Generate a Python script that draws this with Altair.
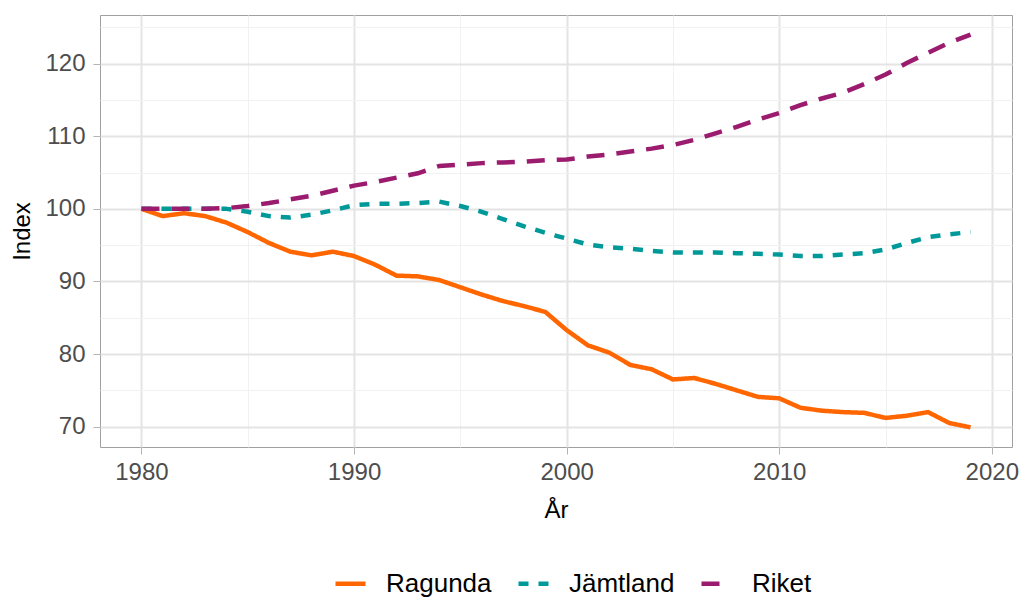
import altair as alt
import pandas as pd

years = list(range(1980, 2020))
series_names = ["Ragunda", "Jämtland", "Riket"]
colors = ["#FF6600", "#009999", "#9B1B6E"]
dashes = [[1, 0], [10, 10], [18, 12]]

ragunda = [100, 99.0, 99.4, 99.0, 98.1, 96.8, 95.3, 94.1, 93.6, 94.1,
           93.5, 92.3, 90.8, 90.7, 90.2, 89.2, 88.2, 87.3, 86.6, 85.8,
           83.3, 81.2, 80.2, 78.5, 77.9, 76.5, 76.7, 75.9, 75.0, 74.1,
           73.9, 72.6, 72.2, 72.0, 71.9, 71.2, 71.5, 72.0, 70.5, 69.9]
jamtland = [100, 100, 100, 100, 100, 99.6, 99.0, 98.8, 99.2, 99.8,
            100.5, 100.7, 100.7, 100.8, 101.0, 100.4, 99.6, 98.6, 97.6, 96.7,
            95.9, 95.1, 94.7, 94.5, 94.2, 94.0, 94.0, 94.0, 93.9, 93.8,
            93.7, 93.5, 93.5, 93.7, 93.9, 94.4, 95.3, 96.1, 96.5, 96.8]
riket = [100, 100, 100, 100, 100.1, 100.4, 100.8, 101.3, 101.8, 102.5,
         103.2, 103.7, 104.3, 104.9, 105.9, 106.1, 106.3, 106.4, 106.5, 106.7,
         106.8, 107.2, 107.5, 107.9, 108.3, 108.8, 109.5, 110.4, 111.3, 112.3,
         113.2, 114.3, 115.2, 116.0, 117.2, 118.5, 120.1, 121.5, 122.9, 124.0]

x_ticks = list(range(1980, 2021, 5))
y_ticks = list(range(70, 126, 5))

rows = []
for name, vals in zip(series_names, [ragunda, jamtland, riket]):
    for yr, v in zip(years, vals):
        rows.append({"year": yr, "value": v, "series": name})
df = pd.DataFrame(rows)

allv = ragunda + jamtland + riket
ymin, ymax = min(allv), max(allv)
yexp = (ymax - ymin) * 0.05
xexp = (max(years) - min(years)) * 0.05

major_test = "datum.value % 10 === 0"
grid_color = {"condition": {"test": major_test, "value": "#E4E4E4"}, "value": "#F1F1F1"}
grid_width = {"condition": {"test": major_test, "value": 2}, "value": 1}
tick_op = {"condition": {"test": major_test, "value": 1}, "value": 0}
lab_expr = "datum.value % 10 === 0 ? datum.label : ''"

legend_opts = dict(orient="none", legendX=233, legendY=551, direction="horizontal")

chart = alt.Chart(df).mark_line(strokeWidth=4.5, strokeCap="butt", strokeJoin="round").encode(
    x=alt.X("year:Q", title="År",
            scale=alt.Scale(domain=[min(years) - xexp, max(years) + xexp], nice=False, zero=False),
            axis=alt.Axis(values=x_ticks, format="d", labelExpr=lab_expr,
                          gridColor=grid_color, gridWidth=grid_width, tickOpacity=tick_op,
                          labelPadding=6, titlePadding=14)),
    y=alt.Y("value:Q", title="Index",
            scale=alt.Scale(domain=[ymin - yexp, ymax + yexp], nice=False, zero=False),
            axis=alt.Axis(values=y_ticks, labelExpr=lab_expr,
                          gridColor=grid_color, gridWidth=grid_width, tickOpacity=tick_op,
                          labelPadding=8, titlePadding=10)),
    color=alt.Color("series:N", title=None,
                    scale=alt.Scale(domain=series_names, range=colors),
                    legend=alt.Legend(**legend_opts)),
    strokeDash=alt.StrokeDash("series:N", title=None,
                              scale=alt.Scale(domain=series_names, range=dashes),
                              legend=alt.Legend(**legend_opts)),
).properties(
    width=912, height=432,
    autosize=alt.AutoSizeParams(type="none"),
    padding={"left": 92, "top": 7, "right": 7, "bottom": 151},
).configure_view(
    stroke="#A0A0A0", strokeWidth=1
).configure_axis(
    domain=False, tickColor="#B3B3B3", tickSize=7, tickWidth=1,
    labelFont="Liberation Sans", labelFontSize=24, labelColor="#4D4D4D",
    titleFont="Liberation Sans", titleFontSize=24, titleColor="#000000",
    titleFontWeight="normal",
).configure_legend(
    symbolType="stroke", symbolSize=900, symbolStrokeWidth=4.5,
    labelFont="Liberation Sans", labelFontSize=26, labelColor="#000000",
    labelOffset=18, columnPadding=17, padding=0, symbolOpacity=1,
)

chart.save("out.html", embed_options={"renderer": "svg", "actions": False})
